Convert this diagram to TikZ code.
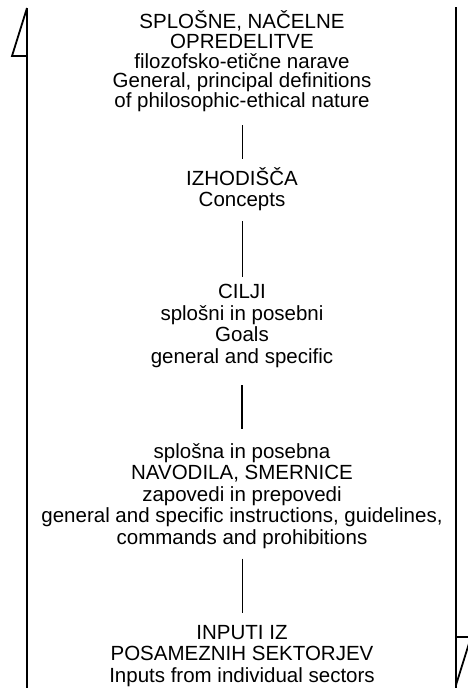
\documentclass[tikz,border=0pt]{standalone}
\usepackage{fontspec}
\setmainfont{Liberation Sans}
\begin{document}
\begin{tikzpicture}[x=1pt,y=-1pt,
  txt/.style={anchor=north,align=center,inner sep=0pt,font=\fontsize{20.5}{21.5}\selectfont},
  conn/.style={line width=1pt},
  frame/.style={line width=1.8pt}]
\useasboundingbox (0,0) rectangle (468,688);
\node[txt,font=\fontsize{20.5}{19.8}\selectfont] (b1) at (242,10.3) {SPLOŠNE, NAČELNE\\OPREDELITVE\\filozofsko-etične narave\\General, principal definitions\\of philosophic-ethical nature};
\node[txt] (b2) at (242,167.3) {IZHODIŠČA\\Concepts};
\node[txt] (b3) at (242,284) {CILJI\\splošni in posebni\\Goals\\general and specific};
\node[txt] (b4) at (242,443) {splošna in posebna\\NAVODILA, SMERNICE\\zapovedi in prepovedi\\general and specific instructions, guidelines,\\commands and prohibitions};
\node[txt] (b5) at (242,625) {INPUTI IZ\\POSAMEZNIH SEKTORJEV\\Inputs from individual sectors};
\draw[conn,shorten <=13pt,shorten >=8pt] (b1.south) -- (b2.north);
\draw[conn,shorten <=10pt,shorten >=7pt] (b2.south) -- (b3.north);
\draw[conn,line width=1.5pt,shorten <=18pt,shorten >=14pt] (b3.south) -- (b4.north);
\draw[conn,shorten <=10pt,shorten >=12pt] (b4.south) -- (b5.north);
% frame lines with half arrowheads
\coordinate (lt) at (27,8);
\coordinate (lb) at (27,688);
\coordinate (rt) at (456,7);
\coordinate (rb) at (456,688);
\draw[frame] (lt) -- (lb);
\draw[frame] (rt) -- (rb);
\draw[frame,line join=miter] (lt) -- (12,56) -- (27,56);
\begin{scope}
\clip (0,0) rectangle (468,688);
\draw[frame,line join=miter] (456,637) -- (471,637) -- (456,685);
\end{scope}
\end{tikzpicture}
\end{document}
